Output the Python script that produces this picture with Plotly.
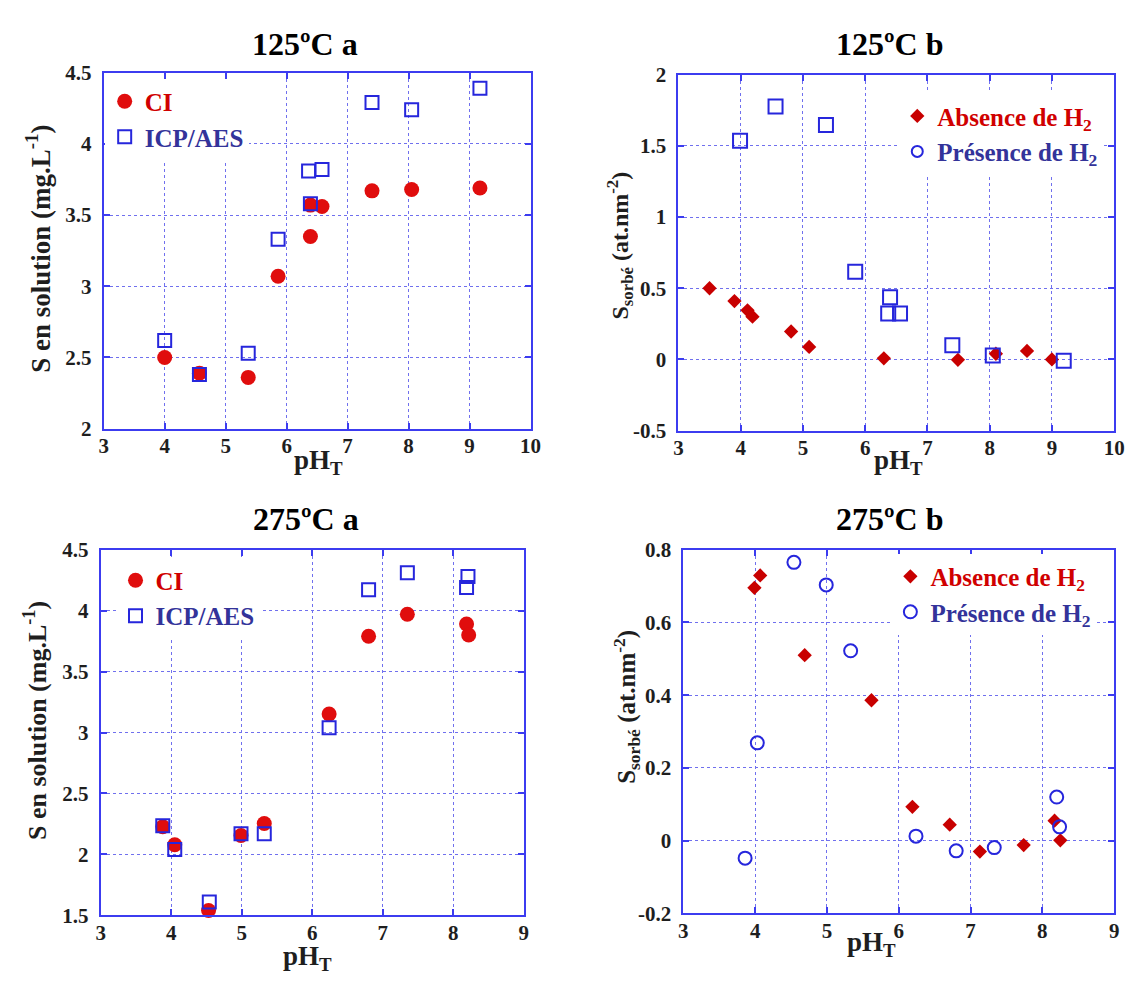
import plotly.graph_objects as go

# ---------------- data ----------------
# 125 °C a : S en solution
ph_125a_ci = [4.00, 4.57, 5.37, 5.86, 6.39, 6.39, 6.58, 7.40, 8.05, 9.17]
s_125a_ci = [2.50, 2.39, 2.36, 3.07, 3.35, 3.57, 3.56, 3.67, 3.68, 3.69]
ph_125a_icp = [4.00, 4.57, 5.37, 5.86, 6.36, 6.58, 6.39, 7.40, 8.05, 9.17]
s_125a_icp = [2.62, 2.38, 2.53, 3.33, 3.81, 3.82, 3.58, 4.29, 4.24, 4.39]

# 125 °C b : S sorbé
ph_125b_abs = [3.50, 3.90, 4.11, 4.19, 4.81, 5.10, 6.30, 7.49, 8.10, 8.60, 9.00]
s_125b_abs = [0.50, 0.41, 0.345, 0.30, 0.196, 0.088, 0.008, -0.003, 0.04, 0.06, 0.0]
ph_125b_pres = [3.99, 4.56, 5.37, 5.84, 6.40, 6.37, 6.56, 7.40, 8.05, 9.19]
s_125b_pres = [1.535, 1.776, 1.647, 0.615, 0.436, 0.322, 0.322, 0.10, 0.027, -0.01]

# 275 °C a : S en solution
ph_275a_ci = [3.88, 4.05, 4.53, 4.99, 5.32, 6.24, 6.80, 7.35, 8.19, 8.22]
s_275a_ci = [2.227, 2.08, 1.54, 2.155, 2.254, 3.152, 3.79, 3.97, 3.89, 3.80]
ph_275a_icp = [3.88, 4.05, 4.54, 4.99, 5.32, 6.24, 6.80, 7.35, 8.21, 8.19]
s_275a_icp = [2.235, 2.04, 1.61, 2.17, 2.17, 3.04, 4.17, 4.31, 4.28, 4.19]

# 275 °C b : S sorbé
ph_275b_abs = [3.99, 4.07, 4.69, 5.62, 6.19, 6.71, 7.13, 7.74, 8.17, 8.25]
s_275b_abs = [0.695, 0.729, 0.51, 0.386, 0.093, 0.044, -0.030, -0.012, 0.055, 0.001]
ph_275b_pres = [3.86, 4.03, 4.54, 4.99, 5.33, 6.24, 6.80, 7.33, 8.20, 8.24]
s_275b_pres = [-0.048, 0.269, 0.765, 0.703, 0.522, 0.0125, -0.028, -0.019, 0.12, 0.038]

titles = ["125ºC a", "125ºC b", "275ºC a", "275ºC b"]
ylab_a = "S en solution (mg.L<sup>-1</sup>)"
ylab_b = "S<sub>sorbé</sub> (at.nm<sup>-2</sup>)"
xlab = "pH<sub>T</sub>"
leg_ci, leg_icp = "CI", "ICP/AES"
leg_abs, leg_pres = "Absence de H<sub>2</sub>", "Présence de H<sub>2</sub>"

ticks_x_10 = [3, 4, 5, 6, 7, 8, 9, 10]
ticks_x_9 = [3, 4, 5, 6, 7, 8, 9]
ticks_y_125a = [2, 2.5, 3, 3.5, 4, 4.5]
ticks_y_125b = [-0.5, 0, 0.5, 1, 1.5, 2]
labels_y_125b = ["-0.5", "0", "0.5", "1", "1.5", "2"]
ticks_y_275a = [1.5, 2, 2.5, 3, 3.5, 4, 4.5]
ticks_y_275b = [-0.2, 0, 0.2, 0.4, 0.6, 0.8]
labels_y_275b = ["-0.2", "0", "0.2", "0.4", "0.6", "0.8"]

# ---------------- styles ----------------
PAGE_W, PAGE_H = 1136, 983
BODY = 8                      # default page margin around the plot div
W, H = PAGE_W - BODY, PAGE_H - BODY
FONT = "Liberation Serif"
RED_DOT = "#e00d0d"
RED_DIA = "#c80000"
BLUE = "#2626dc"
FRAME = "#3c3cf0"
GRID = "#7070ee"
RED_TXT = "#d00000"
NAVY_TXT = "#33339a"
TICK_TXT = "#1e1e1e"


def px_x(p):
    return (p - BODY) / W


def px_y(p):
    return 1 - (p - BODY) / H


def red(t):
    return f"<b><span style='color:{RED_TXT}'>{t}</span></b>"


def navy(t):
    return f"<b><span style='color:{NAVY_TXT}'>{t}</span></b>"


fig = go.Figure()

sq = dict(symbol="square-open", size=14, color=BLUE, line=dict(width=2))
dot = dict(symbol="circle", size=15, color=RED_DOT)
dia = dict(symbol="diamond", size=11, color=RED_DIA)
ring = dict(symbol="circle-open", size=13, color=BLUE, line=dict(width=2))

# panel 1
fig.add_trace(go.Scatter(x=ph_125a_ci, y=s_125a_ci, mode="markers", xaxis="x", yaxis="y",
                         name=red(leg_ci), legend="legend", marker=dot, cliponaxis=False))
fig.add_trace(go.Scatter(x=ph_125a_icp, y=s_125a_icp, mode="markers", xaxis="x", yaxis="y",
                         name=navy(leg_icp), legend="legend", marker=dict(sq, size=13), cliponaxis=False))
# panel 2
fig.add_trace(go.Scatter(x=ph_125b_abs, y=s_125b_abs, mode="markers", xaxis="x2", yaxis="y2",
                         name=red(leg_abs), legend="legend2", marker=dia, cliponaxis=False))
fig.add_trace(go.Scatter(x=ph_125b_pres, y=s_125b_pres, mode="markers", xaxis="x2", yaxis="y2",
                         showlegend=False, marker=sq, cliponaxis=False))
fig.add_trace(go.Scatter(x=[None], y=[None], mode="markers", xaxis="x2", yaxis="y2",
                         name=navy(leg_pres), legend="legend2",
                         marker=dict(ring, size=11)))
# panel 3
fig.add_trace(go.Scatter(x=ph_275a_ci, y=s_275a_ci, mode="markers", xaxis="x3", yaxis="y3",
                         name=red(leg_ci), legend="legend3", marker=dot, cliponaxis=False))
fig.add_trace(go.Scatter(x=ph_275a_icp, y=s_275a_icp, mode="markers", xaxis="x3", yaxis="y3",
                         name=navy(leg_icp), legend="legend3", marker=dict(sq, size=13), cliponaxis=False))
# panel 4
fig.add_trace(go.Scatter(x=ph_275b_abs, y=s_275b_abs, mode="markers", xaxis="x4", yaxis="y4",
                         name=red(leg_abs), legend="legend4", marker=dia, cliponaxis=False))
fig.add_trace(go.Scatter(x=ph_275b_pres, y=s_275b_pres, mode="markers", xaxis="x4", yaxis="y4",
                         name=navy(leg_pres), legend="legend4", marker=ring, cliponaxis=False))

tickfont = dict(family=FONT, size=21, color=TICK_TXT)


def ax(domain, rng, anchor, tickvals, ticktext=None, standoff=0):
    if ticktext is None:
        ticktext = [str(v) for v in tickvals]
    return dict(domain=domain, range=rng, anchor=anchor, showline=True, linecolor=FRAME, linewidth=2,
                mirror="ticks", ticks="inside", ticklen=6, tickwidth=2, tickcolor=FRAME,
                showgrid=True, gridcolor=GRID, gridwidth=1, griddash="dot", zeroline=False,
                tickfont=tickfont, fixedrange=True, tickmode="array", tickvals=tickvals,
                ticktext=[f"<b>{t}</b>" for t in ticktext], ticklabelstandoff=standoff)


# plot frames in page pixels: (left, right, top, bottom)
frames = {
    1: (100, 533, 62, 427),
    2: (683, 1125, 64, 429),
    3: (97, 526, 551, 926),
    4: (688, 1125, 551, 924),
}
dom = {k: ([px_x(l), px_x(r)], [px_y(b), px_y(t)]) for k, (l, r, t, b) in frames.items()}

legend_common = dict(bgcolor="white", borderwidth=0, xanchor="left", yanchor="top",
                     font=dict(family=FONT, size=25), tracegroupgap=0,
                     xref="paper", yref="paper")

XS, YS = -3, 6
fig.update_layout(
    width=W, height=H, margin=dict(l=0, r=0, t=0, b=0),
    paper_bgcolor="white", plot_bgcolor="white",
    xaxis=ax(dom[1][0], [3, 10], "y", ticks_x_10, standoff=XS),
    yaxis=ax(dom[1][1], [2, 4.5], "x", ticks_y_125a, standoff=YS),
    xaxis2=ax(dom[2][0], [3, 10], "y2", ticks_x_10, standoff=XS),
    yaxis2=ax(dom[2][1], [-0.5, 2], "x2", ticks_y_125b, labels_y_125b, standoff=YS),
    xaxis3=ax(dom[3][0], [3, 9], "y3", ticks_x_9, standoff=XS),
    yaxis3=ax(dom[3][1], [1.5, 4.5], "x3", ticks_y_275a, standoff=YS),
    xaxis4=ax(dom[4][0], [3, 9], "y4", ticks_x_9, standoff=XS),
    yaxis4=ax(dom[4][1], [-0.2, 0.8], "x4", ticks_y_275b, labels_y_275b, standoff=YS),
    legend=dict(x=px_x(101), y=px_y(68), **legend_common),
    legend2=dict(x=px_x(905), y=px_y(83), **legend_common),
    legend3=dict(x=px_x(112), y=px_y(559), **legend_common),
    legend4=dict(x=px_x(898), y=px_y(555), **legend_common),
    showlegend=True,
)

annots = []
title_pos = [(304, 33), (897, 33), (305, 520), (897, 520)]
for t, (x, y) in zip(titles, title_pos):
    annots.append(dict(text=f"<b>{t}</b>", x=px_x(x), y=px_y(y), xref="paper", yref="paper",
                       showarrow=False, xanchor="center", yanchor="middle",
                       font=dict(family=FONT, size=32, color="black")))
xl_pos = [(318, 461), (906, 461), (307, 970), (879, 955)]
for (x, y) in xl_pos:
    annots.append(dict(text=f"<b>{xlab}</b>", x=px_x(x), y=px_y(y), xref="paper", yref="paper",
                       showarrow=False, xanchor="center", yanchor="middle",
                       font=dict(family=FONT, size=27, color=TICK_TXT)))
yl_pos = [(ylab_a, 34, 243, 27), (ylab_b, 624, 239, 24), (ylab_a, 31, 726, 26), (ylab_b, 630, 712, 25)]
for (t, x, y, fs) in yl_pos:
    annots.append(dict(text=f"<b>{t}</b>", x=px_x(x), y=px_y(y), xref="paper", yref="paper",
                       showarrow=False, xanchor="center", yanchor="middle", textangle=-90,
                       font=dict(family=FONT, size=fs, color=TICK_TXT)))
fig.update_layout(annotations=annots)

fig.write_html("out.html")
